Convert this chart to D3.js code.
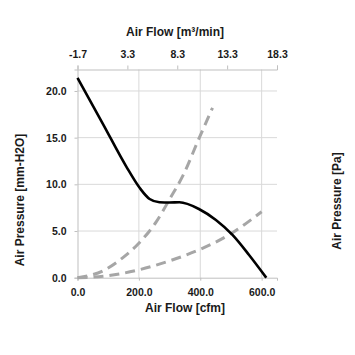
<!DOCTYPE html>
<html><head><meta charset="utf-8">
<script src="https://cdn.jsdelivr.net/npm/d3@7"></script>
<style>body{margin:0;background:#fff}svg{display:block}text{font-family:"Liberation Sans",Arial,sans-serif;font-weight:bold;fill:#1a1a1a}</style>
</head><body><svg id="c" width="355" height="355"></svg>
<script>
// Data
const pqFlow = [0, 84, 159, 203, 235, 267, 300, 332, 397, 451, 505, 559, 615];
const pqPressure = [21.4, 16.4, 11.9, 9.6, 8.43, 8.08, 8.05, 8.08, 7.33, 6.18, 4.58, 2.43, 0];
const imp1Flow = [0, 84, 148, 203, 257, 300, 343, 397, 440];
const imp1Pressure = [0, 0.75, 2.15, 3.8, 6.0, 8.4, 10.9, 15.0, 18.2];
const imp2Flow = [0, 84, 192, 300, 397, 494, 600];
const imp2Pressure = [0, 0.15, 0.78, 1.8, 3.0, 4.6, 7.07];
const bottomTicks = [0, 200, 400, 600];
const topTicks = [-1.7, 3.3, 8.3, 13.3, 18.3];
const leftTicks = [0, 5, 10, 15, 20];

const svg = d3.select("#c");
const L = 77.5, R = 277, T = 69.5, B = 277.7;
const x = d3.scaleLinear().domain([0, 650]).range([L, R]);
const xTop = d3.scaleLinear().domain([-1.7, 18.3]).range([L, R]);
const y = d3.scaleLinear().domain([0, 22.3]).range([B, T]);
const axisCol = "#bfbfbf", gridCol = "#d9d9d9";
const fmt = d => d.toFixed(1);

// grid
svg.append("g").selectAll("line.h").data(leftTicks.slice(1)).join("line")
  .attr("x1", L).attr("x2", R).attr("y1", d => y(d)).attr("y2", d => y(d))
  .attr("stroke", gridCol).attr("stroke-width", 1);
svg.append("g").selectAll("line.v").data(bottomTicks.slice(1)).join("line")
  .attr("x1", d => x(d)).attr("x2", d => x(d)).attr("y1", T).attr("y2", B)
  .attr("stroke", gridCol).attr("stroke-width", 1);

function styleAxis(g) {
  g.select(".domain").attr("stroke", axisCol).attr("stroke-width", 1);
  g.selectAll(".tick line").attr("stroke", axisCol);
  g.selectAll(".tick text").attr("font-size", 10.5).attr("fill", "#1a1a1a")
    .style("font-family", "'Liberation Sans',Arial,sans-serif").style("font-weight", "bold");
}
// bottom axis
svg.append("g").attr("transform", `translate(0,${B})`)
  .call(d3.axisBottom(x).tickValues(bottomTicks).tickFormat(fmt).tickSizeOuter(0).tickSize(3).tickPadding(8))
  .call(styleAxis);
// top axis
svg.append("g").attr("transform", `translate(0,${T})`)
  .call(d3.axisTop(xTop).tickValues(topTicks).tickFormat(fmt).tickSizeOuter(0).tickSize(4).tickPadding(8))
  .call(styleAxis);
// left axis
svg.append("g").attr("transform", `translate(${L},0)`)
  .call(d3.axisLeft(y).tickValues(leftTicks).tickFormat(fmt).tickSizeOuter(0).tickSize(3).tickPadding(8))
  .call(styleAxis);

// curves
const line = d3.line().x(d => x(d[0])).y(d => y(d[1])).curve(d3.curveMonotoneX);
svg.append("path").datum(imp1Flow.map((f, i) => [f, imp1Pressure[i]]))
  .attr("d", line).attr("fill", "none").attr("stroke", "#a6a6a6").attr("stroke-width", 3)
  .attr("stroke-dasharray", "10,6");
svg.append("path").datum(imp2Flow.map((f, i) => [f, imp2Pressure[i]]))
  .attr("d", line).attr("fill", "none").attr("stroke", "#a6a6a6").attr("stroke-width", 3)
  .attr("stroke-dasharray", "10,6");
svg.append("path").datum(pqFlow.map((f, i) => [f, pqPressure[i]]))
  .attr("d", line).attr("fill", "none").attr("stroke", "#000").attr("stroke-width", 2.6);

// titles
svg.append("text").attr("x", 175).attr("y", 36).attr("text-anchor", "middle").attr("font-size", 12).text("Air Flow [m³/min]");
svg.append("text").attr("x", 185).attr("y", 312).attr("text-anchor", "middle").attr("font-size", 12).text("Air Flow [cfm]");
svg.append("text").attr("transform", "translate(24,200) rotate(-90)").attr("text-anchor", "middle").attr("font-size", 12).text("Air Pressure [mm-H2O]");
svg.append("text").attr("transform", "translate(341,201) rotate(-90)").attr("text-anchor", "middle").attr("font-size", 12).text("Air Pressure [Pa]");
</script></body></html>
